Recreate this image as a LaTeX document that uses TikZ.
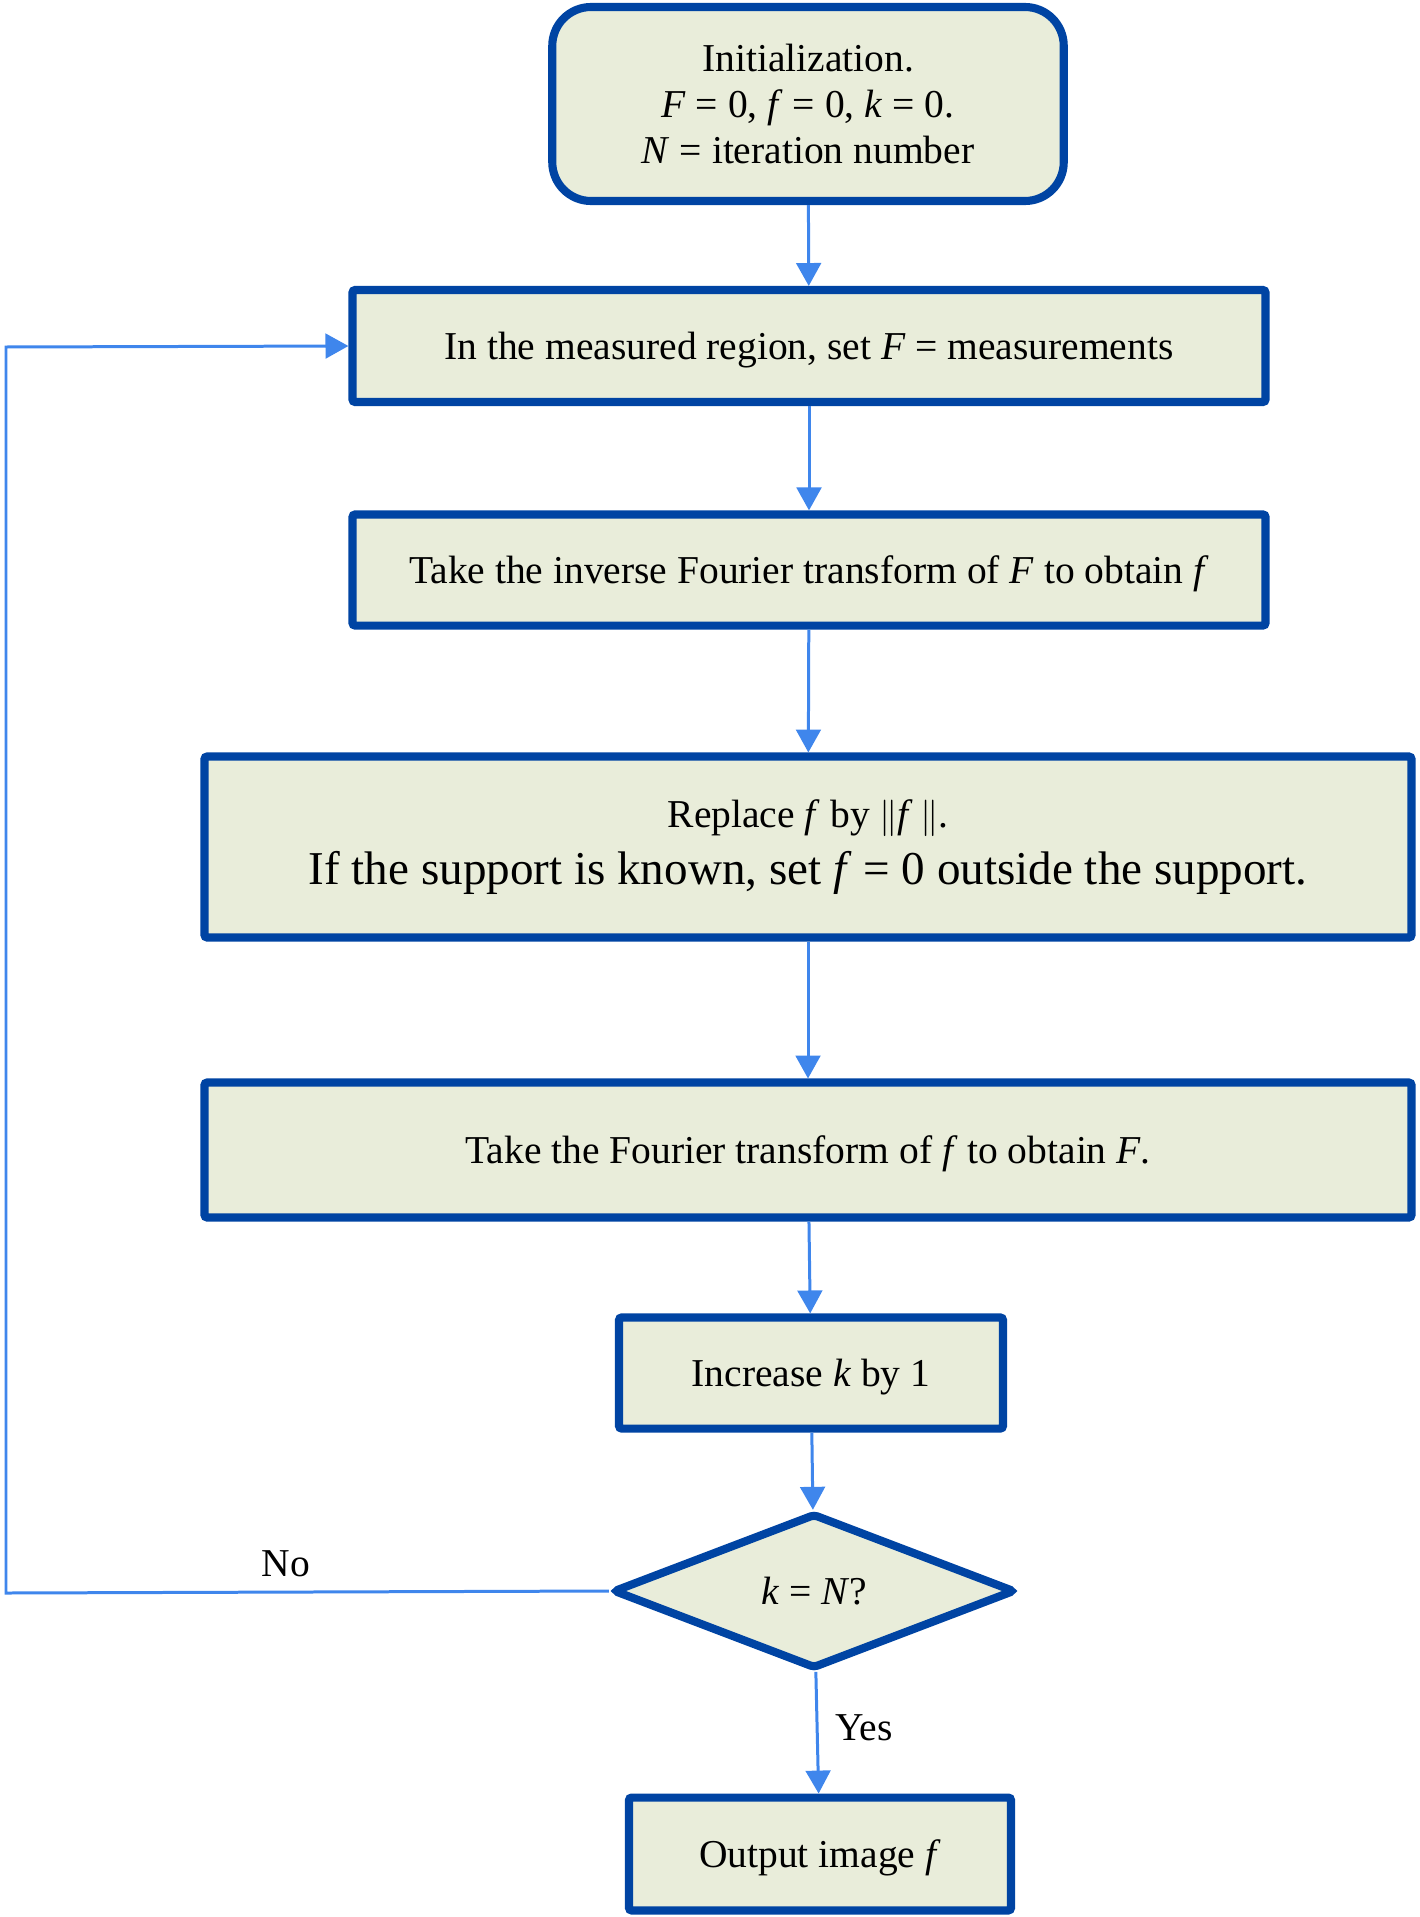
\documentclass[tikz,border=0pt]{standalone}
\usepackage{fontspec}
\setmainfont{Liberation Serif}
\usetikzlibrary{arrows.meta,shapes.geometric}

\definecolor{boxfill}{HTML}{E9EDDA}
\definecolor{boxline}{HTML}{0044A3}
\definecolor{flow}{HTML}{3F86EC}

\begin{document}
\begin{tikzpicture}[x=0.567pt,y=-0.567pt,
    block/.style={draw=boxline,fill=boxfill,line width=4.6pt,inner sep=0pt,align=center,
      rounded corners=1.5pt,font=\fontsize{22.4}{26}\selectfont},
    oneline/.style={block,text depth=0pt},
    flowline/.style={draw=flow,line width=1.7pt,-{Triangle[length=13pt,width=14pt]}}]
    \useasboundingbox (0,0) rectangle (1419,1917);

    \node[block,rounded corners=22pt,minimum width=290pt,minimum height=110pt] (init) at (808,104)
        {Initialization.\\ \textit{F} = 0, \textit{f} = 0, \textit{k} = 0.\\ \textit{N} = iteration number};
    \node[oneline,minimum width=517.7pt,minimum height=63.5pt] (meas) at (809,346)
        {In the measured region, set \textit{F} = measurements};
    \node[oneline,minimum width=517.7pt,minimum height=63pt] (inv) at (809,570)
        {Take the inverse Fourier transform of \textit{F} to obtain \textit{f}};
    \node[block,minimum width=684.4pt,minimum height=102.6pt] (supp) at (808,847)
        {Replace \textit{f} by $\|$\textit{f}\,$\|$.\\[6pt]
         {\fontsize{26.7}{30}\selectfont If the support is known, set \textit{f} = 0 outside the support.}};
    \node[oneline,minimum width=684.4pt,minimum height=76.5pt] (fwd) at (808,1150)
        {Take the Fourier transform of \textit{f} to obtain \textit{F}.};
    \node[oneline,minimum width=217.7pt,minimum height=63pt] (inc) at (811,1373)
        {Increase \textit{k} by 1};
    \node[block,diamond,rounded corners=2pt,minimum width=228pt,minimum height=88pt] (test) at (814,1591)
        {\textit{k} = \textit{N}?};
    \node[oneline,minimum width=216.6pt,minimum height=64pt] (out) at (820,1854)
        {Output image \textit{f}};

    \coordinate (back1) at (6,1593);
    \coordinate (back2) at (6,347);

    \draw[flowline] (init) -- (meas);
    \draw[flowline] (meas) -- (inv);
    \draw[flowline] (inv) -- (supp);
    \draw[flowline] (supp) -- (fwd);
    \draw[flowline] (fwd) -- (inc);
    \draw[flowline] (inc) -- (test);
    \draw[flowline] (test) -- node[right,xshift=6pt,yshift=3pt,font=\fontsize{22.4}{26}\selectfont] (yes) {Yes} (out);
    \draw[flowline] (test.west) -- (back1) -- (back2) -- (meas.west);
    \node[font=\fontsize{22.4}{26}\selectfont] (no) at (286,1564) {No};
\end{tikzpicture}
\end{document}
